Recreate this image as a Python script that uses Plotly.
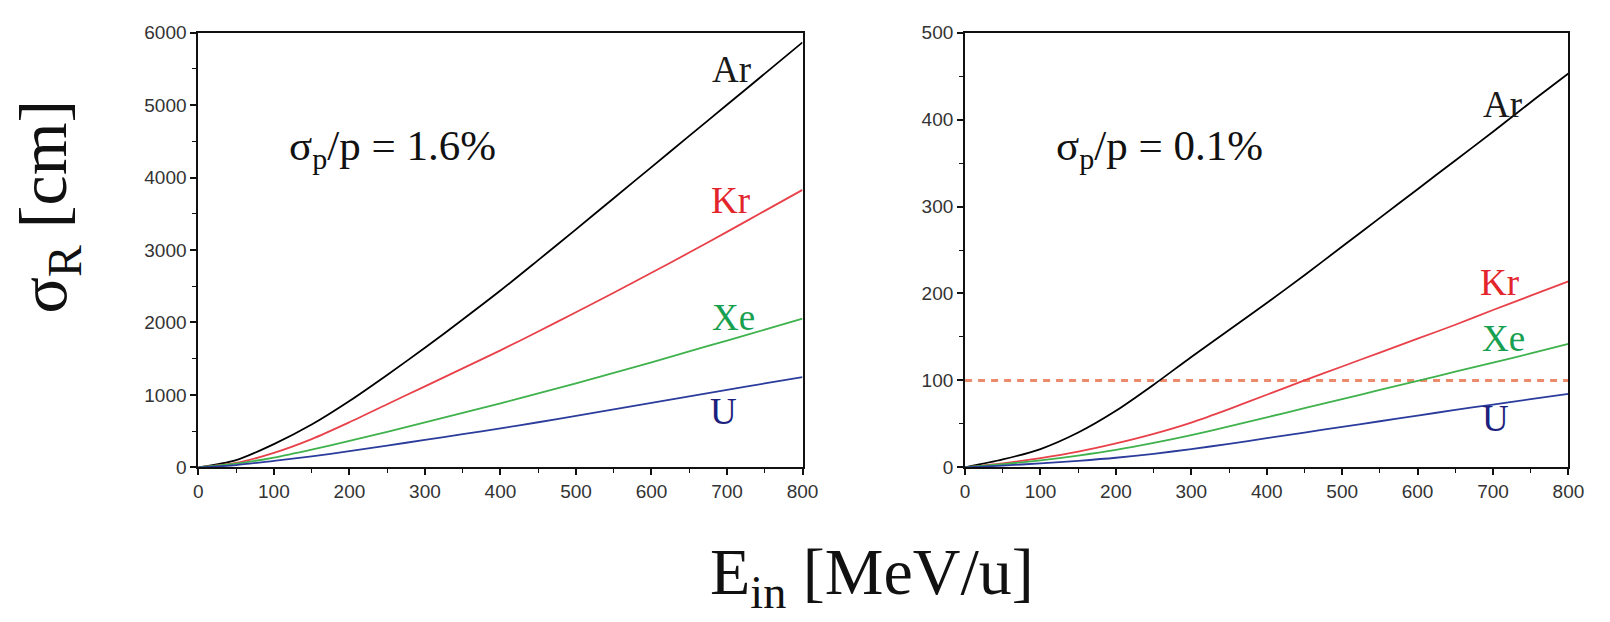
import plotly.graph_objects as go

# Incident energy grid [MeV/u]
energy = [0, 50, 100, 150, 200, 250, 300, 350, 400, 450, 500, 550, 600, 650, 700, 750, 800]

# Range straggling sigma_R [cm] for sigma_p/p = 1.6 %
ar_16 = [0, 100, 320, 590, 915, 1275, 1650, 2040, 2440, 2860, 3285, 3715, 4145, 4575, 5005, 5435, 5867]
kr_16 = [0, 60, 200, 390, 622, 870, 1118, 1365, 1615, 1875, 2140, 2410, 2685, 2965, 3250, 3540, 3830]
xe_16 = [0, 50, 135, 245, 365, 490, 620, 750, 882, 1020, 1160, 1303, 1450, 1600, 1750, 1900, 2053]
u_16 = [0, 31, 89, 150, 222, 300, 378, 457, 537, 622, 710, 800, 890, 980, 1070, 1158, 1244]

# Range straggling sigma_R [cm] for sigma_p/p = 0.1 %
ar_01 = [0, 9, 21, 40, 65, 95, 127, 158, 189, 221, 254, 287, 320, 353, 386, 420, 453]
kr_01 = [0, 4.5, 10.5, 18, 27.5, 38.5, 51.5, 67, 83.5, 100, 116, 132, 148, 164, 181, 197.5, 214]
xe_01 = [0, 3.5, 8, 13.5, 20, 28, 37, 47, 57.5, 68, 78.5, 89, 99.5, 110, 120.5, 131, 142]
u_01 = [0, 2, 4.5, 7.5, 11, 15.5, 21, 27, 33.5, 40, 46.5, 53, 59.5, 66, 72.2, 78.4, 84.6]

# Reference level in the right panel [cm]
limit_01 = 100

species = ["Ar", "Kr", "Xe", "U"]
line_colors = ["#000000", "#e8414a", "#3fb24d", "#2b3c9c"]
label_colors = ["#1a1a1a", "#e3242b", "#17a04f", "#1c1f7e"]

# Label anchor positions (energy, sigma_R) for each panel
label_e_16 = [706, 704, 708, 695]
label_s_16 = [5488, 3688, 2067, 777]
label_e_01 = [712, 709, 714, 703]
label_s_01 = [417, 213, 148, 56]

panel_texts = ["σ<sub>p</sub>/p = 1.6%", "σ<sub>p</sub>/p = 0.1%"]

fig = go.Figure()

series_16 = [ar_16, kr_16, xe_16, u_16]
series_01 = [ar_01, kr_01, xe_01, u_01]

for name, ys, col in zip(species, series_16, line_colors):
    fig.add_trace(go.Scatter(x=energy, y=ys, mode="lines", name=name,
                             line=dict(color=col, width=1.8, shape="spline", smoothing=0.8),
                             xaxis="x", yaxis="y", showlegend=False))

fig.add_trace(go.Scatter(x=[energy[0], energy[-1]], y=[limit_01, limit_01], mode="lines",
                         line=dict(color="#ee8a6c", width=3, dash="7px,6px"),
                         xaxis="x2", yaxis="y2", showlegend=False))

for name, ys, col in zip(species, series_01, line_colors):
    fig.add_trace(go.Scatter(x=energy, y=ys, mode="lines", name=name,
                             line=dict(color=col, width=1.8, shape="spline", smoothing=0.8),
                             xaxis="x2", yaxis="y2", showlegend=False))

tick_font = dict(family="Liberation Sans, Arial, sans-serif", size=19, color="#333333")
serif = "Liberation Serif, Times New Roman, serif"


def axis_style(rng, dtick, minor_dtick, domain, anchor):
    return dict(range=rng, dtick=dtick, domain=domain, anchor=anchor,
                showgrid=False, zeroline=False,
                showline=True, linecolor="#111111", linewidth=2, mirror=True,
                ticks="outside", ticklen=6, tickwidth=1.5, tickcolor="#111111",
                minor=dict(dtick=minor_dtick, ticks="outside", ticklen=4,
                           tickwidth=1.2, tickcolor="#111111"),
                tickfont=tick_font, fixedrange=True)


y_dom = [0.2391, 0.9622]
fig.update_layout(
    width=1610, height=622,
    margin=dict(l=0, r=0, t=0, b=0),
    paper_bgcolor="white", plot_bgcolor="white",
    xaxis=axis_style([0, 800], 100, 50, [0.1217, 0.5019], "y"),
    yaxis=axis_style([0, 6000], 1000, 500, y_dom, "x"),
    xaxis2=axis_style([0, 800], 100, 50, [0.6042, 0.9839], "y2"),
    yaxis2=axis_style([0, 500], 100, 50, y_dom, "x2"),
)

annotations = []
for name, e, s, col in zip(species, label_e_16, label_s_16, label_colors):
    annotations.append(dict(x=e, y=s, xref="x", yref="y", text=name, showarrow=False,
                            font=dict(family=serif, size=37, color=col)))
for name, e, s, col in zip(species, label_e_01, label_s_01, label_colors):
    annotations.append(dict(x=e, y=s, xref="x2", yref="y2", text=name, showarrow=False,
                            font=dict(family=serif, size=37, color=col)))

annotations.append(dict(x=118, y=4400, xref="x", yref="y", text=panel_texts[0],
                        showarrow=False, xanchor="left", yanchor="middle",
                        font=dict(family=serif, size=43, color="#111111")))
annotations.append(dict(x=118, y=366, xref="x2", yref="y2", text=panel_texts[1],
                        showarrow=False, xanchor="left", yanchor="middle",
                        font=dict(family=serif, size=43, color="#111111")))

# Shared axis titles
annotations.append(dict(x=43 / 1610, y=1 - 203 / 622, xref="paper", yref="paper",
                        text="σ<sub>R</sub> [cm]", textangle=-90, showarrow=False,
                        xanchor="center", yanchor="middle",
                        font=dict(family=serif, size=68, color="#111111")))
annotations.append(dict(x=878 / 1610, y=1 - 586 / 622, xref="paper", yref="paper",
                        text="E<sub>in</sub> [MeV/u]", showarrow=False,
                        xanchor="center", yanchor="middle",
                        font=dict(family=serif, size=66, color="#111111")))

fig.update_layout(annotations=annotations)

fig.write_html("out.html")
